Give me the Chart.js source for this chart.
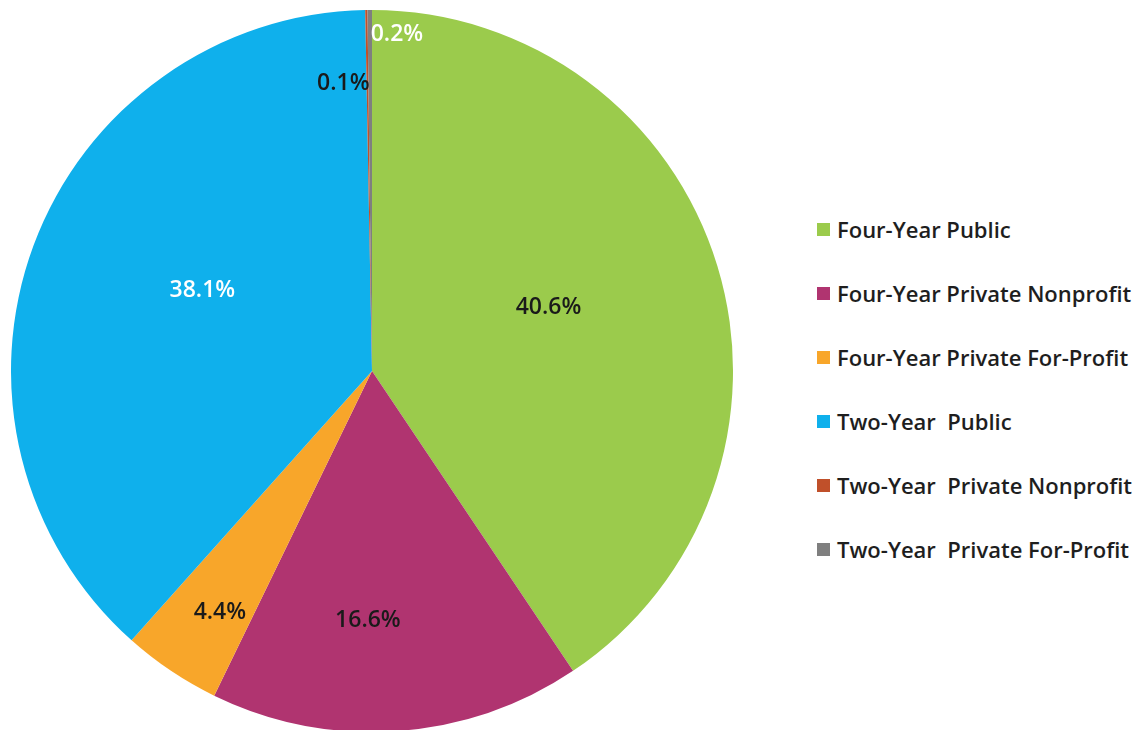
<!DOCTYPE html>
<html>
<head>
<meta charset="utf-8">
<script src="https://cdn.jsdelivr.net/npm/chart.js@4"></script>
<style>
    html, body { margin: 0; padding: 0; background: #fff; width: 1134px; height: 730px; overflow: hidden; }
    #pieBox { position: absolute; left: 11px; top: 10px; width: 722px; height: 722px; }
    #legend { position: absolute; left: 817px; top: 197px; font-family: "Open Sans", sans-serif; font-size: 22px; font-weight: 600; color: #1e1e1e; }
    .item { display: flex; align-items: center; height: 64px; margin: 0; white-space: nowrap; }
    .item span.box { width: 13px; height: 13px; margin-right: 7px; display: inline-block; }
</style>
</head>
<body>
<div id="pieBox"><canvas id="pie"></canvas></div>
<div id="legend"></div>
<script>
// --- Data ---
const categories = [
    'Four-Year Public',
    'Four-Year Private Nonprofit',
    'Four-Year Private For-Profit',
    'Two-Year Public',
    'Two-Year Private Nonprofit',
    'Two-Year Private For-Profit'
];
const shares = [40.6, 16.6, 4.4, 38.1, 0.1, 0.2];
const legendNames = [
    'Four-Year Public',
    'Four-Year Private Nonprofit',
    'Four-Year Private For-Profit',
    'Two-Year\u00a0 Public',
    'Two-Year\u00a0 Private Nonprofit',
    'Two-Year\u00a0 Private For-Profit'
];

// --- Styles ---
const sliceColors = ['#9bcb4c', '#b03470', '#f8a62a', '#0fb0ec', '#c0502a', '#7f7f7f'];
const labelColors = ['#1a1a1a', '#1a1a1a', '#1a1a1a', '#ffffff', '#1a1a1a', '#ffffff'];
// label placement: fraction of radius, angle shift from slice middle (degrees)
const labelRadius = [0.52, 0.69, 0.79, 0.52, 0.80, 0.935];
const labelShift = [-3, 4.9, -1.6, 5, -4.8, 4.6];

// --- Legend ---
const legendEl = document.getElementById('legend');
legendNames.forEach((name, i) => {
    const row = document.createElement('div');
    row.className = 'item';
    row.innerHTML = `<span class="box" style="background:${sliceColors[i]}"></span><span>${name}</span>`;
    legendEl.appendChild(row);
});

// --- Labels plugin ---
const sliceLabels = {
    id: 'sliceLabels',
    afterDatasetsDraw(chart) {
        const c = chart.ctx;
        const meta = chart.getDatasetMeta(0);
        c.save();
        c.font = '600 23px "Open Sans", sans-serif';
        c.textAlign = 'center';
        c.textBaseline = 'middle';
        meta.data.forEach((arc, i) => {
            const mid = (arc.startAngle + arc.endAngle) / 2 + labelShift[i] * Math.PI / 180;
            const r = arc.outerRadius * labelRadius[i];
            c.fillStyle = labelColors[i];
            c.fillText(shares[i].toFixed(1) + '%', arc.x + Math.cos(mid) * r, arc.y + Math.sin(mid) * r);
        });
        c.restore();
    }
};

new Chart(document.getElementById('pie'), {
    type: 'pie',
    data: {
        labels: categories,
        datasets: [{
            data: shares,
            backgroundColor: sliceColors,
            borderWidth: 0
        }]
    },
    options: {
        responsive: true,
        maintainAspectRatio: false,
        animation: false,
        layout: { padding: 0 },
        plugins: {
            legend: { display: false },
            tooltip: { enabled: false }
        }
    },
    plugins: [sliceLabels]
});
</script>
</body>
</html>
